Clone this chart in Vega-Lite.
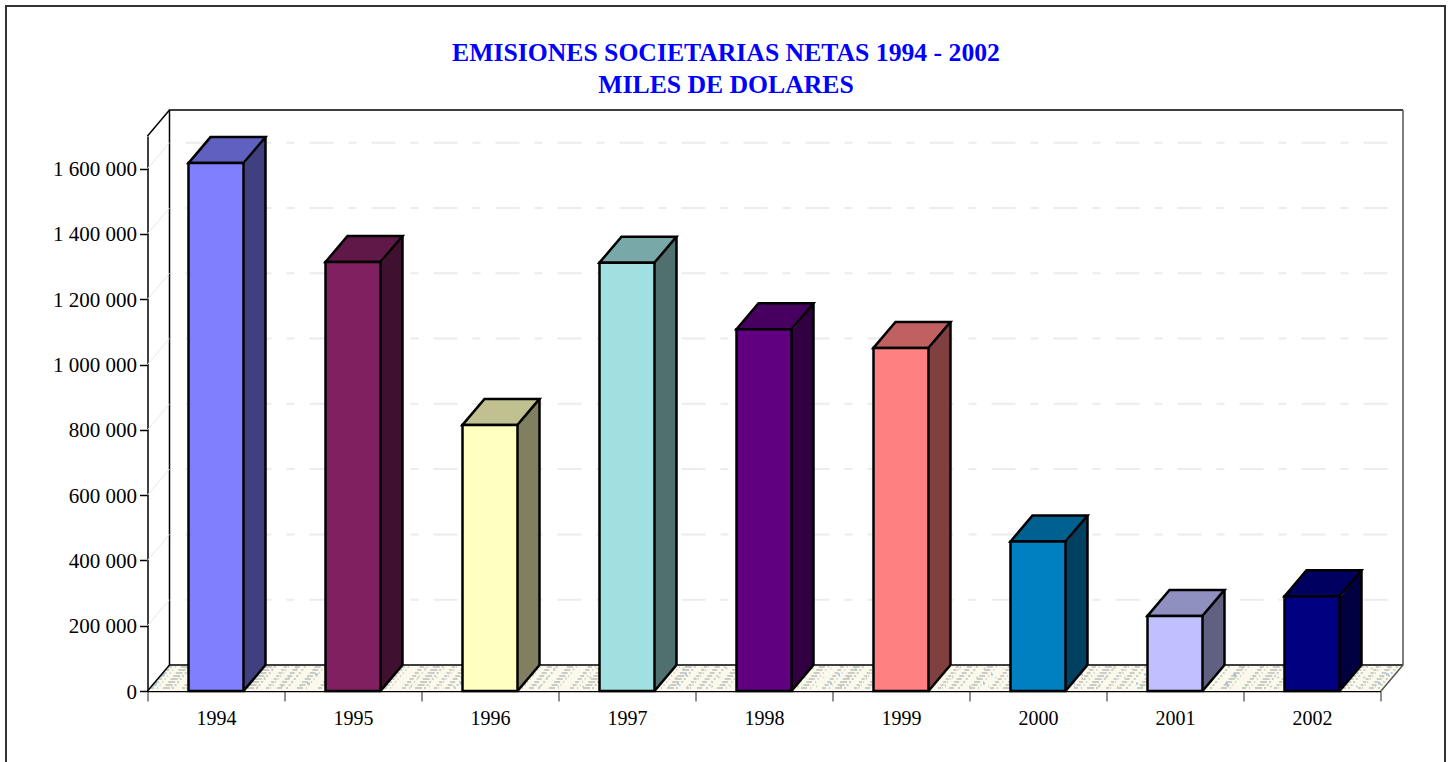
{
"$schema":"https://vega.github.io/schema/vega-lite/v6.json",
"width":1233,"height":555,
"autosize":{"type":"none"},
"padding":{"left":147.5,"top":136,"right":72.5,"bottom":71},
"background":"white",
"title":{"text":["EMISIONES SOCIETARIAS NETAS 1994 - 2002","MILES DE DOLARES"],"font":"Liberation Serif","fontSize":25.7,"fontWeight":"bold","color":"#0000ff","anchor":"middle","dx":-38,"lineHeight":32,"offset":-97,"frame":"group"},
"datasets":{
"bars":[{"year":"1994","value":1617000},{"year":"1995","value":1314000},{"year":"1996","value":815000},{"year":"1997","value":1312000},{"year":"1998","value":1108000},{"year":"1999","value":1051000},{"year":"2000","value":458000},{"year":"2001","value":230000},{"year":"2002","value":290000}],
"ticks":[{"tick":200000},{"tick":400000},{"tick":600000},{"tick":800000},{"tick":1000000},{"tick":1200000},{"tick":1400000},{"tick":1600000}],
"anchor":[{"year":"1994","origin":0}]
},
"resolve":{"scale":{"fill":"independent"}},
"layer":[
{"data":{"name":"anchor"},"mark":{"type":"point","shape":"M-210,79L-210,-685L1229,-685L1229,79","size":4,"filled":false,"fill":"transparent","stroke":"#333333","strokeWidth":2,"opacity":1},
 "encoding":{"x":{"field":"year","type":"ordinal","scale":{"type":"band","domain":["1994","1995","1996","1997","1998","1999","2000","2001","2002"],"padding":0},"axis":{"title":null,"labelAngle":0,"labelFont":"Liberation Serif","labelFontSize":20,"labelColor":"#000000","labelPadding":7,"tickBand":"extent","tickSize":10,"tickColor":"#222222","tickWidth":1,"domainColor":"#000000","domainWidth":1.5,"labelOverlap":false,"grid":false}},
 "y":{"field":"origin","type":"quantitative","scale":{"domain":[0,1700000],"nice":false},"axis":{"title":null,"values":[0,200000,400000,600000,800000,1000000,1200000,1400000,1600000],"labelExpr":"replace(format(datum.value, ','), /,/g, ' ')","labelFont":"Liberation Serif","labelFontSize":21,"labelColor":"#000000","labelPadding":3,"labelOffset":1,"tickSize":8,"tickColor":"#000000","tickWidth":1.5,"domainColor":"#000000","domainWidth":1.5,"grid":false}}}},
{"data":{"name":"anchor"},"mark":{"type":"point","shape":"M-68.5,0L-46.5,-26L1186.5,-26L1164.5,0Z","size":4,"filled":true,"fill":"#fbf9ec","strokeWidth":0,"opacity":1},
 "encoding":{"x":{"field":"year","type":"ordinal","scale":{"type":"band"}},"y":{"field":"origin","type":"quantitative"}}},
{"data":{"name":"anchor"},"mark":{"type":"point","shape":"M-66,-3L1167,-3M-60.9,-9L1172.1,-9M-55.8,-15L1177.2,-15M-50.7,-21L1182.3,-21M-63.4,-6L1169.6,-6M-58.3,-12L1174.7,-12M-53.3,-18L1179.7,-18M-48.2,-24L1184.7,-24","size":4,"filled":false,"fill":"transparent","stroke":"#bcbcbc","strokeWidth":1.5,"strokeDash":[4,3,1,5,7,2,2,8,3,1,1,6,5,4,2,9,6,3,1,11],"opacity":1},
 "encoding":{"x":{"field":"year","type":"ordinal","scale":{"type":"band"}},"y":{"field":"origin","type":"quantitative"}}},
{"data":{"name":"anchor"},"mark":{"type":"point","shape":"M-64,-4.5L1168,-4.5M-56.8,-13.5L1176,-13.5M-49.5,-22.5L1183,-22.5","size":4,"filled":false,"fill":"transparent","stroke":"#b4d8b8","strokeWidth":1.5,"strokeDash":[2,17,1,23],"opacity":1},
 "encoding":{"x":{"field":"year","type":"ordinal","scale":{"type":"band"}},"y":{"field":"origin","type":"quantitative"}}},
{"data":{"name":"anchor"},"mark":{"type":"point","shape":"M-62,-7.5L1170,-7.5M-54,-16.5L1178,-16.5","size":4,"filled":false,"fill":"transparent","stroke":"#9cc4ea","strokeWidth":2,"strokeDash":[3,61,2,87],"opacity":1},
 "encoding":{"x":{"field":"year","type":"ordinal","scale":{"type":"band"}},"y":{"field":"origin","type":"quantitative"}}},
{"data":{"name":"anchor"},"mark":{"type":"point","shape":"M-68.5,-555L-46.5,-581M-46.5,-26L-46.5,-581L1187,-581M-68.5,0L-46.5,-26L1187,-26","size":4,"filled":false,"fill":"transparent","stroke":"#000000","strokeWidth":1.5,"opacity":1},
 "encoding":{"x":{"field":"year","type":"ordinal","scale":{"type":"band"}},"y":{"field":"origin","type":"quantitative"}}},
{"data":{"name":"anchor"},"mark":{"type":"point","shape":"M1187,-581L1187,-26L1165,0","size":4,"filled":false,"fill":"transparent","stroke":"#555555","strokeWidth":1.5,"opacity":1},
 "encoding":{"x":{"field":"year","type":"ordinal","scale":{"type":"band"}},"y":{"field":"origin","type":"quantitative"}}},
{"data":{"name":"ticks"},"mark":{"type":"point","shape":"M1171.5,-26L-44.5,-26","size":4,"filled":false,"fill":"transparent","stroke":"#ececec","strokeWidth":2,"strokeDash":[24,15,8,15],"opacity":1},
 "encoding":{"x":{"datum":"1994","type":"ordinal","scale":{"type":"band"}},"y":{"field":"tick","type":"quantitative"}}},
{"data":{"name":"ticks"},"mark":{"type":"point","shape":"M-68.5,0L-46.5,-26","size":4,"filled":false,"fill":"transparent","stroke":"#e8e8e8","strokeWidth":1,"opacity":1},
 "encoding":{"x":{"datum":"1994","type":"ordinal","scale":{"type":"band"}},"y":{"field":"tick","type":"quantitative"}}},
{"data":{"name":"bars"},"mark":{"type":"bar","size":22,"xOffset":38.5,"y2Offset":-26},
 "encoding":{"x":{"field":"year","type":"ordinal","scale":{"type":"band"}},"y":{"field":"value","type":"quantitative"},"y2":{"datum":0},
 "fill":{"field":"year","type":"nominal","legend":null,"scale":{"range":["#404080","#401030","#808060","#507070","#300040","#804040","#004060","#606080","#000040"]}}}},
{"data":{"name":"bars"},"mark":{"type":"point","shape":"M27.5,2L49.5,-26L49.5,2Z","size":4,"filled":true,"strokeWidth":0,"opacity":1},
 "encoding":{"x":{"field":"year","type":"ordinal","scale":{"type":"band"}},"y":{"field":"value","type":"quantitative"},
 "fill":{"field":"year","type":"nominal","legend":null,"scale":{"range":["#404080","#401030","#808060","#507070","#300040","#804040","#004060","#606080","#000040"]}}}},
{"data":{"name":"bars"},"mark":{"type":"point","shape":"M27.5,0L49.5,-26L49.5,-28L27.5,-28Z","size":4,"filled":true,"strokeWidth":0,"opacity":1},
 "encoding":{"x":{"field":"year","type":"ordinal","scale":{"type":"band"}},"y":{"datum":0,"type":"quantitative"},
 "fill":{"field":"year","type":"nominal","legend":null,"scale":{"range":["#404080","#401030","#808060","#507070","#300040","#804040","#004060","#606080","#000040"]}}}},
{"data":{"name":"bars"},"mark":{"type":"point","shape":"M27.5,0L49.5,-26","size":4,"filled":false,"fill":"transparent","stroke":"#000000","strokeWidth":2.5,"opacity":1},
 "encoding":{"x":{"field":"year","type":"ordinal","scale":{"type":"band"}},"y":{"datum":0,"type":"quantitative"}}},
{"data":{"name":"bars"},"mark":{"type":"rule","xOffset":49.5,"yOffset":-26,"y2Offset":-26,"stroke":"#000000","strokeWidth":2.5},
 "encoding":{"x":{"field":"year","type":"ordinal","scale":{"type":"band"}},"y":{"field":"value","type":"quantitative"},"y2":{"datum":0}}},
{"data":{"name":"bars"},"mark":{"type":"point","shape":"M-27.5,0L-5.5,-26L49.5,-26L27.5,0Z","size":4,"filled":true,"stroke":"#000000","strokeWidth":2.5,"opacity":1},
 "encoding":{"x":{"field":"year","type":"ordinal","scale":{"type":"band"}},"y":{"field":"value","type":"quantitative"},
 "fill":{"field":"year","type":"nominal","legend":null,"scale":{"range":["#6060c0","#601848","#c0c090","#78a8a8","#480060","#c06060","#006090","#9090c0","#000060"]}}}},
{"data":{"name":"bars"},"mark":{"type":"bar","size":55,"stroke":"#000000","strokeWidth":2.5},
 "encoding":{"x":{"field":"year","type":"ordinal","scale":{"type":"band"}},"y":{"field":"value","type":"quantitative"},"y2":{"datum":0},
 "fill":{"field":"year","type":"nominal","legend":null,"scale":{"range":["#8080ff","#802060","#ffffc0","#a0e0e0","#600080","#ff8080","#0080c0","#c0c0ff","#000080"]}}}}
],
"config":{"view":{"stroke":null}}
}
